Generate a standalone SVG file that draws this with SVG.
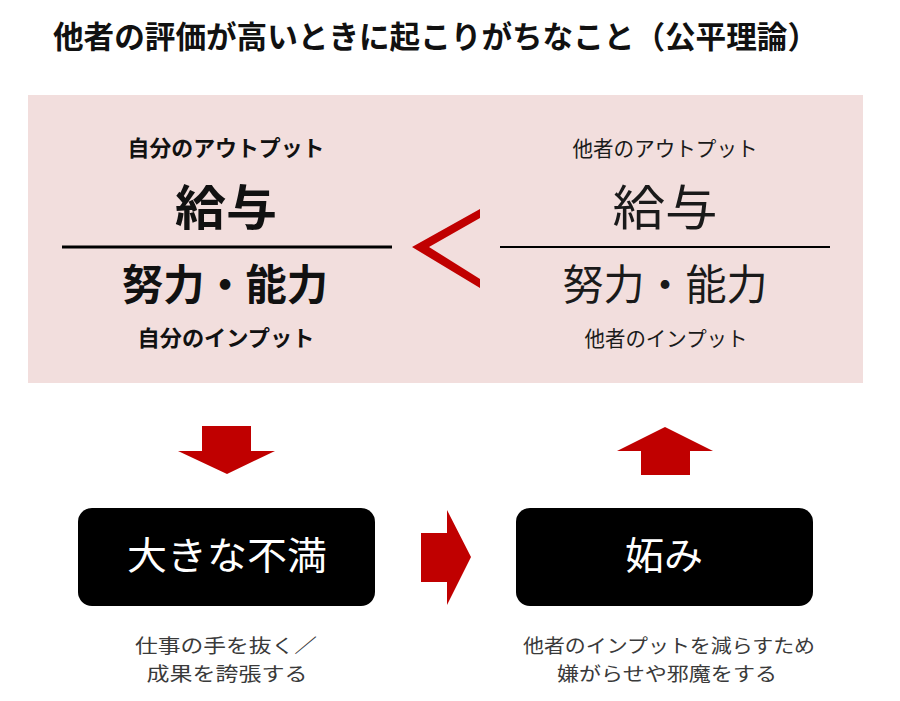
<svg xmlns="http://www.w3.org/2000/svg" width="900" height="701" viewBox="0 0 900 701">
<style>
text{font-family:"Noto Sans CJK JP","Noto Sans",sans-serif;}
.b{font-weight:bold;fill:#111;}
.n{font-weight:normal;fill:#1a1a1a;}
.c{text-anchor:middle;}
.cap{font-size:19px;fill:#3a3a3a;text-anchor:middle;}
.red{fill:#c00000;}
.box{fill:#000;}
.wt{fill:#fff;font-size:38px;text-anchor:middle;}
</style>
<rect width="900" height="701" fill="#fff"/>
<g id="title">
<text class="b" x="53" y="48" font-size="31" textLength="765" lengthAdjust="spacingAndGlyphs">他者の評価が高いときに起こりがちなこと（公平理論）</text>
</g>
<g id="panel">
<rect x="28" y="95" width="835" height="288" fill="#f2dedd"/>
</g>
<g id="self-ratio">
<text class="b c" x="226" y="156" font-size="22" textLength="197" lengthAdjust="spacingAndGlyphs">自分のアウトプット</text>
<text class="b c" x="226" y="225" font-size="48" textLength="102" lengthAdjust="spacingAndGlyphs">給与</text>
<line x1="62" y1="247" x2="392" y2="247" stroke="#000" stroke-width="3"/>
<text class="b c" x="225" y="300" font-size="42" textLength="206" lengthAdjust="spacingAndGlyphs">努力・能力</text>
<text class="b c" x="226" y="346" font-size="22" textLength="177" lengthAdjust="spacingAndGlyphs">自分のインプット</text>
</g>
<g id="less-than">
<polygon class="red" points="480,209 412,247 480,288 480,279 429,247 480,218"/>
</g>
<g id="other-ratio">
<text class="n c" x="665" y="156" font-size="21" textLength="185" lengthAdjust="spacingAndGlyphs">他者のアウトプット</text>
<text class="n c" x="665" y="225" font-size="48" textLength="105" lengthAdjust="spacingAndGlyphs">給与</text>
<line x1="500" y1="247" x2="830" y2="247" stroke="#000" stroke-width="2"/>
<text class="n c" x="665" y="300" font-size="42" textLength="205" lengthAdjust="spacingAndGlyphs">努力・能力</text>
<text class="n c" x="666" y="346" font-size="21" textLength="163" lengthAdjust="spacingAndGlyphs">他者のインプット</text>
</g>
<g id="connectors">
<polygon class="red" points="202,426 251,426 251,451 275,451 227,474 178,451 202,451"/>
<polygon class="red" points="665,427 713,451 690,451 690,475 641,475 641,451 617,451"/>
<polygon class="red" points="421,533 447,533 447,510 471,557 447,605 447,582 421,582"/>
</g>
<g id="dissatisfaction">
<rect class="box" x="78" y="508" width="297" height="98" rx="14"/>
<text class="wt" x="227" y="569" textLength="200" lengthAdjust="spacingAndGlyphs">大きな不満</text>
<text class="cap" x="226" y="653" textLength="182" lengthAdjust="spacingAndGlyphs">仕事の手を抜く／</text>
<text class="cap" x="227" y="681" textLength="161" lengthAdjust="spacingAndGlyphs">成果を誇張する</text>
</g>
<g id="envy">
<rect class="box" x="516" y="508" width="297" height="98" rx="14"/>
<text class="wt" x="664" y="569" textLength="78" lengthAdjust="spacingAndGlyphs">妬み</text>
<text class="cap" x="669" y="653" textLength="292" lengthAdjust="spacingAndGlyphs">他者のインプットを減らすため</text>
<text class="cap" x="667" y="681" textLength="220" lengthAdjust="spacingAndGlyphs">嫌がらせや邪魔をする</text>
</g>
</svg>
